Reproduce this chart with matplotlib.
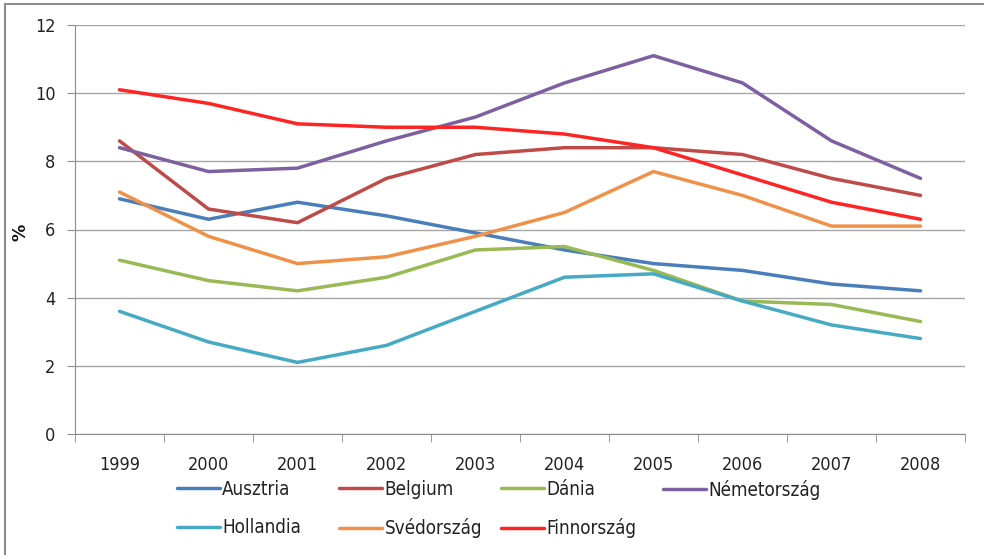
import matplotlib
matplotlib.use("Agg")
import matplotlib.pyplot as plt
from matplotlib.lines import Line2D
from matplotlib import font_manager
from matplotlib.font_manager import FontProperties

years = ["1999", "2000", "2001", "2002", "2003", "2004", "2005", "2006", "2007", "2008"]
ausztria = [6.9, 6.3, 6.8, 6.4, 5.9, 5.4, 5.0, 4.8, 4.4, 4.2]
belgium = [8.6, 6.6, 6.2, 7.5, 8.2, 8.4, 8.4, 8.2, 7.5, 7.0]
dania = [5.1, 4.5, 4.2, 4.6, 5.4, 5.5, 4.8, 3.9, 3.8, 3.3]
nemetorszag = [8.4, 7.7, 7.8, 8.6, 9.3, 10.3, 11.1, 10.3, 8.6, 7.5]
hollandia = [3.6, 2.7, 2.1, 2.6, 3.6, 4.6, 4.7, 3.9, 3.2, 2.8]
svedorszag = [7.1, 5.8, 5.0, 5.2, 5.8, 6.5, 7.7, 7.0, 6.1, 6.1]
finnorszag = [10.1, 9.7, 9.1, 9.0, 9.0, 8.8, 8.4, 7.6, 6.8, 6.3]

series = [
    ("Ausztria", ausztria, "#4A7EBB"),
    ("Belgium", belgium, "#BE4B48"),
    ("Dánia", dania, "#98B954"),
    ("Németország", nemetorszag, "#7D60A0"),
    ("Hollandia", hollandia, "#46AAC5"),
    ("Svédország", svedorszag, "#F0914A"),
    ("Finnország", finnorszag, "#FF2424"),
]

# pick a narrow font if one is installed
narrow = None
for f in font_manager.fontManager.ttflist:
    fn = f.fname.lower()
    if ("condensed" in fn or "narrow" in fn) and f.weight in (400, "normal", "regular") and f.style == "normal":
        narrow = f.fname
        break
if narrow:
    def fp(size, weight="normal"):
        return FontProperties(fname=narrow, size=size, weight=weight)
else:
    def fp(size, weight="normal"):
        return FontProperties(family="Roboto", size=size, weight=weight)

fig = plt.figure(figsize=(9.84, 5.55), dpi=100)
ax = fig.add_axes([75/984, 1-434/555, (965-75)/984, (434-25)/555])

x = list(range(len(years)))
handles = {}
for name, vals, col in series:
    h, = ax.plot(x, vals, color=col, lw=2.5, solid_capstyle="round", solid_joinstyle="round", label=name)
    handles[name] = h

ax.set_xlim(-0.5, len(years) - 0.5)
ax.set_ylim(0, 12)
ax.set_yticks([0, 2, 4, 6, 8, 10, 12])
ax.yaxis.grid(True, color="#A6A6A6", lw=1)
ax.set_axisbelow(True)
ax.set_xticks(x)
ax.set_xticklabels(years, fontproperties=fp(13))
ax.set_yticklabels([str(v) for v in [0, 2, 4, 6, 8, 10, 12]], fontproperties=fp(13))
ax.set_xticks([i - 0.5 for i in range(len(years) + 1)], minor=True)
ax.tick_params(axis="x", which="major", length=0, pad=16, colors="#222222")
ax.tick_params(axis="x", which="minor", length=6, color="#8C8C8C", direction="out")
ax.tick_params(axis="y", length=6, color="#8C8C8C", pad=8, labelcolor="#222222")
for s in ["top", "right"]:
    ax.spines[s].set_visible(False)
for s in ["left", "bottom"]:
    ax.spines[s].set_color("#8C8C8C")
fig.text(20/984, 1-232/555, "%", rotation=90, ha="center", va="center",
         family="DejaVu Sans", fontsize=12.5, fontweight="bold", color="#111111")

# legend: 4 equal-width columns, filled row by row
columns = [["Ausztria", "Hollandia"], ["Belgium", "Svédország"],
           ["Dánia", "Finnország"], ["Németország"]]
col_x0, col_pitch = 177, 162
for i, names in enumerate(columns):
    leg = fig.legend([handles[n] for n in names], names, ncol=1, frameon=False,
                     loc="upper left", bbox_to_anchor=((col_x0 + i * col_pitch) / 984, 1 - 480 / 555),
                     prop=fp(13.5), handlelength=2.3, handletextpad=0.12,
                     labelspacing=1.02, borderaxespad=0, borderpad=0)
    for t in leg.get_texts():
        t.set_color("#222222")

fig.add_artist(Line2D([5/984, 5/984], [0, 1-4/555], color="#8C8C8C", lw=1.5, transform=fig.transFigure))
fig.add_artist(Line2D([5/984, 1], [1-4/555, 1-4/555], color="#8C8C8C", lw=1.5, transform=fig.transFigure))

fig.savefig("out.png", dpi=100)
